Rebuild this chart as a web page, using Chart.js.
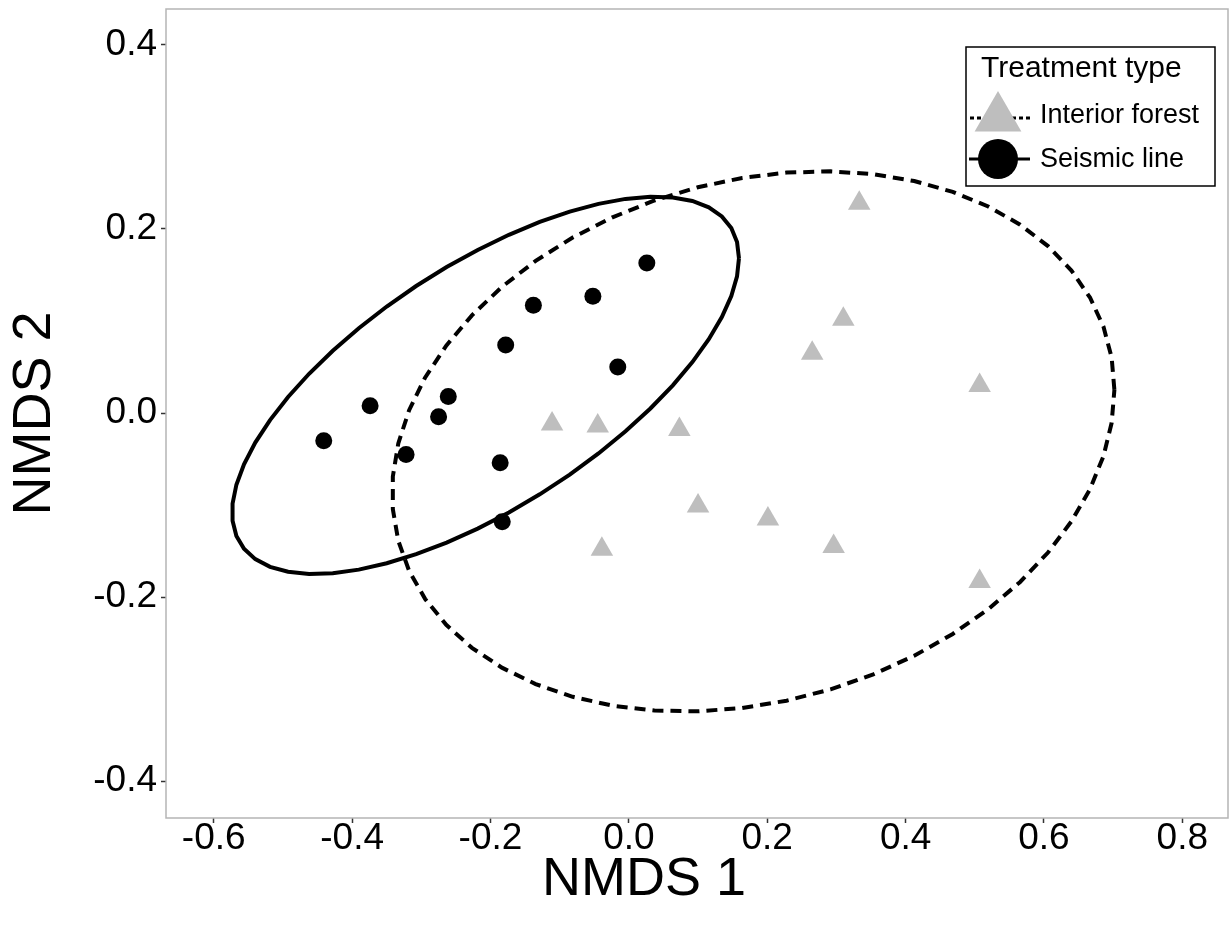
<!DOCTYPE html>
<html>
<head>
<meta charset="utf-8">
<script src="https://cdn.jsdelivr.net/npm/chart.js@4.4.1/dist/chart.umd.min.js"></script>
<style>
  body { margin: 0; background: #fff; }
</style>
</head>
<body>
<canvas id="nmdsChart" width="1230" height="926"></canvas>
<script>
// =======================
// DATOS (NMDS scores)
// =======================
const seismicX = [-0.441, -0.374, -0.322, -0.275, -0.261, -0.186, -0.183, -0.178, -0.138, -0.052, -0.016, 0.026];
const seismicY = [-0.030, 0.008, -0.045, -0.004, 0.018, -0.054, -0.118, 0.074, 0.117, 0.127, 0.050, 0.163];

const forestX = [-0.111, -0.045, 0.073, 0.100, 0.201, -0.039, 0.265, 0.333, 0.310, 0.507, 0.296, 0.507];
const forestY = [-0.012, -0.014, -0.018, -0.101, -0.115, -0.148, 0.065, 0.228, 0.102, 0.030, -0.145, -0.183];

const xTicks = [-0.6, -0.4, -0.2, 0.0, 0.2, 0.4, 0.6, 0.8];
const yTicks = [-0.4, -0.2, 0.0, 0.2, 0.4];

const groupNames = ['Interior forest', 'Seismic line'];
const legendTitle = 'Treatment type';
const xTitle = 'NMDS 1';
const yTitle = 'NMDS 2';

const FONT = "'Liberation Sans', Arial, sans-serif";
const GREY = '#bebebe';

// =======================
// ELIPSES (same idea as ggplot stat_ellipse, type "t", level 0.95)
// =======================
function covTrob(xs, ys, nu = 5, maxit = 25, tol = 0.01) {
    const n = xs.length, p = 2;
    let w = xs.map(() => 1);
    let loc = [xs.reduce((a, b) => a + b, 0) / n, ys.reduce((a, b) => a + b, 0) / n];
    let X = [];
    for (let iter = 0; iter < maxit; iter++) {
        const w0 = w.slice();
        X = xs.map((x, i) => [x - loc[0], ys[i] - loc[1]]);
        const sw = w.reduce((a, b) => a + b, 0);
        let a = 0, b = 0, c = 0;
        X.forEach((d, i) => {
            a += w[i] * d[0] * d[0] / sw;
            b += w[i] * d[0] * d[1] / sw;
            c += w[i] * d[1] * d[1] / sw;
        });
        const det = a * c - b * b;
        const Q = X.map(d => (c * d[0] * d[0] - 2 * b * d[0] * d[1] + a * d[1] * d[1]) / det);
        w = Q.map(q => (nu + p) / (nu + q));
        const sw2 = w.reduce((s, v) => s + v, 0);
        loc = [
            xs.reduce((s, v, i) => s + w[i] * v, 0) / sw2,
            ys.reduce((s, v, i) => s + w[i] * v, 0) / sw2
        ];
        if (w.every((v, i) => Math.abs(v - w0[i]) < tol)) break;
    }
    let a = 0, b = 0, c = 0;
    X.forEach((d, i) => {
        a += w[i] * d[0] * d[0] / n;
        b += w[i] * d[0] * d[1] / n;
        c += w[i] * d[1] * d[1] / n;
    });
    return { center: loc, cov: [a, b, c] };
}

function ellipsePoints(xs, ys, level = 0.95, segments = 51) {
    const { center, cov } = covTrob(xs, ys);
    const dfd = xs.length - 1;
    // qf(level, 2, dfd) has a closed form for 2 numerator df
    const qf = dfd / 2 * (Math.pow(1 - level, -2 / dfd) - 1);
    const radius = Math.sqrt(2 * qf);
    const r11 = Math.sqrt(cov[0]);
    const r12 = cov[1] / r11;
    const r22 = Math.sqrt(cov[2] - r12 * r12);
    const pts = [];
    for (let k = 0; k <= segments; k++) {
        const t = k * 2 * Math.PI / segments;
        pts.push({
            x: center[0] + radius * r11 * Math.cos(t),
            y: center[1] + radius * (r12 * Math.cos(t) + r22 * Math.sin(t))
        });
    }
    return pts;
}

const toPoints = (xs, ys) => xs.map((x, i) => ({ x: x, y: ys[i] }));

// no extra room for overhanging tick labels, the panel keeps its size
function noPadding(scale) {
    scale.paddingTop = 0;
    scale.paddingBottom = 0;
    scale.paddingLeft = 0;
    scale.paddingRight = 0;
}

// =======================
// PLUGIN: marco, títulos y leyenda
// =======================
const decorPlugin = {
    id: 'decor',
    afterDraw(chart) {
        const { ctx, chartArea: area } = chart;
        ctx.save();

        // panel border
        ctx.strokeStyle = '#b5b5b5';
        ctx.lineWidth = 1.5;
        ctx.strokeRect(area.left, area.top, area.right - area.left, area.bottom - area.top);

        // axis titles
        ctx.fillStyle = '#000';
        ctx.font = '54px ' + FONT;
        ctx.textAlign = 'center';
        ctx.textBaseline = 'middle';
        ctx.fillText(xTitle, 644, 880);
        ctx.save();
        ctx.translate(35, (area.top + area.bottom) / 2);
        ctx.rotate(-Math.PI / 2);
        ctx.fillText(yTitle, 0, 0);
        ctx.restore();

        // legend
        const lx = area.right - 262, ly = area.top + 38;
        ctx.strokeStyle = '#000';
        ctx.lineWidth = 1.5;
        ctx.strokeRect(lx, ly, 249, 139);

        ctx.textAlign = 'left';
        ctx.font = '30px ' + FONT;
        ctx.fillText(legendTitle, lx + 15, ly + 22);

        const keyX = lx + 32;
        const rows = [ly + 71, ly + 112];

        // Interior forest key
        ctx.lineWidth = 3;
        ctx.setLineDash([4, 3]);
        ctx.beginPath();
        ctx.moveTo(lx + 4, rows[0]);
        ctx.lineTo(lx + 64, rows[0]);
        ctx.stroke();
        ctx.setLineDash([]);
        ctx.fillStyle = GREY;
        const tr = 27;
        ctx.beginPath();
        for (let k = 0; k < 3; k++) {
            const a = k * 2 * Math.PI / 3;
            const px = keyX + Math.sin(a) * tr, py = rows[0] - Math.cos(a) * tr;
            if (k === 0) ctx.moveTo(px, py); else ctx.lineTo(px, py);
        }
        ctx.closePath();
        ctx.fill();

        // Seismic line key
        ctx.beginPath();
        ctx.moveTo(lx + 3, rows[1]);
        ctx.lineTo(lx + 64, rows[1]);
        ctx.stroke();
        ctx.fillStyle = '#000';
        ctx.beginPath();
        ctx.arc(keyX, rows[1], 20, 0, 2 * Math.PI);
        ctx.fill();

        ctx.font = '27px ' + FONT;
        ctx.fillText(groupNames[0], lx + 74, rows[0] - 2);
        ctx.fillText(groupNames[1], lx + 74, rows[1] + 1);

        ctx.restore();
    }
};

// =======================
// GRÁFICO
// =======================
const ctx = document.getElementById('nmdsChart').getContext('2d');

new Chart(ctx, {
    type: 'scatter',
    data: {
        datasets: [
            {
                label: groupNames[0] + ' ellipse',
                type: 'line',
                data: ellipsePoints(forestX, forestY),
                borderColor: '#000',
                borderWidth: 4,
                borderDash: [11, 7],
                pointRadius: 0,
                fill: false,
                tension: 0,
                order: 1
            },
            {
                label: groupNames[1] + ' ellipse',
                type: 'line',
                data: ellipsePoints(seismicX, seismicY),
                borderColor: '#000',
                borderWidth: 4,
                pointRadius: 0,
                fill: false,
                tension: 0,
                order: 2
            },
            {
                label: groupNames[0],
                data: toPoints(forestX, forestY),
                pointStyle: 'triangle',
                pointRadius: 13,
                backgroundColor: GREY,
                borderWidth: 0,
                order: 3
            },
            {
                label: groupNames[1],
                data: toPoints(seismicX, seismicY),
                pointStyle: 'circle',
                pointRadius: 8.5,
                backgroundColor: '#000',
                borderWidth: 0,
                order: 4
            }
        ]
    },
    options: {
        responsive: false,
        animation: false,
        events: [],
        layout: { autoPadding: false, padding: { top: 9, right: 2, left: 0, bottom: 0 } },
        scales: {
            x: {
                type: 'linear',
                min: -0.669,
                max: 0.866,
                afterFit: scale => { scale.height = 108; noPadding(scale); },
                afterBuildTicks: scale => { scale.ticks = xTicks.map(v => ({ value: v })); },
                grid: { display: true, drawOnChartArea: false, drawTicks: true, tickLength: 5, tickColor: '#333', tickWidth: 1.5 },
                border: { display: false },
                ticks: {
                    color: '#000',
                    padding: -3,
                    maxRotation: 0,
                    font: { family: FONT, size: 37, lineHeight: 1 },
                    callback: value => value.toFixed(1)
                }
            },
            y: {
                type: 'linear',
                min: -0.44,
                max: 0.439,
                afterFit: scale => { scale.width = 166; noPadding(scale); },
                afterBuildTicks: scale => { scale.ticks = yTicks.map(v => ({ value: v })); },
                grid: { display: true, drawOnChartArea: false, drawTicks: true, tickLength: 5, tickColor: '#333', tickWidth: 1.5 },
                border: { display: false },
                ticks: {
                    color: '#000',
                    padding: 4,
                    font: { family: FONT, size: 37, lineHeight: 1 },
                    callback: value => value.toFixed(1)
                }
            }
        },
        plugins: {
            legend: { display: false },
            tooltip: { enabled: false }
        }
    },
    plugins: [decorPlugin]
});
</script>
</body>
</html>
